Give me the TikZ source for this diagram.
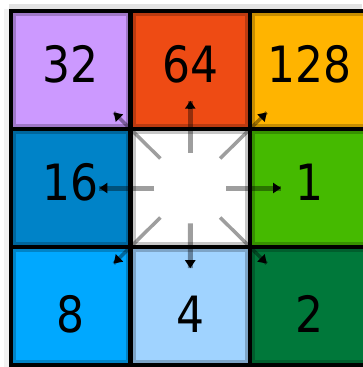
\documentclass[tikz,border=0pt]{standalone}
\usepackage{fontspec}
\newfontfamily\numfont[FakeStretch=0.88]{DejaVu Sans}
\usetikzlibrary{calc, arrows.meta, positioning}
\definecolor{c32}{HTML}{CC99FF}
\definecolor{c64}{HTML}{EE4B14}
\definecolor{c128}{HTML}{FFB400}
\definecolor{c16}{HTML}{0083C8}
\definecolor{c1}{HTML}{45BA00}
\definecolor{c8}{HTML}{00A8FF}
\definecolor{c4}{HTML}{A0D3FF}
\definecolor{c2}{HTML}{00783A}

\begin{document}
\begin{tikzpicture}[x=1pt, y=-1pt, node distance=0pt,
    cell/.style={draw=black, line width=4.5pt, fill=#1, minimum width=119.5pt, minimum height=118pt,
      inner sep=0pt, outer sep=0pt,
      path picture={\draw[line width=10pt, #1!78!black] (path picture bounding box.south west)
        rectangle (path picture bounding box.north east);}},
    edge cell/.style={cell=#1, minimum width=160pt},
    num/.style={font=\numfont\fontsize{50}{52}\selectfont, inner sep=0pt},
    shaft/.style={line width=5pt, draw=black, draw opacity=.38},
    thin shaft/.style={shaft, line width=3.5pt},
    head/.style={line width=4pt, -{Triangle[length=8pt, width=10pt]}}]
    \useasboundingbox (0,0) rectangle (362,367);
    \fill[white] (0,0) rectangle (362,367);
    \fill[gray!22] (9,4) rectangle (362,9);
    \fill[gray!10] (4,9) rectangle (9,367);

    % top row
    \node[cell=c32] (n32) at (70.75,70) {};
    \node[cell=c64,  right=of n32] (n64)  {};
    \node[edge cell=c128, right=of n64] (n128) {};
    % middle row
    \node[cell=c16,   below=of n32] (n16) {};
    \node[cell=white, below=of n64] (c)   {};
    \node[edge cell=c1, right=of c] (n1) {};
    % bottom row
    \node[cell=c8, below=of n16] (n8) {};
    \node[cell=c4, below=of c]   (n4) {};
    \node[edge cell=c2, right=of n4] (n2) {};
    % centres of the right column as far as it shows
    \coordinate (m128) at ([xshift=59.75pt]n128.west);
    \coordinate (m1)   at ([xshift=59.75pt]n1.west);
    \coordinate (m2)   at ([xshift=59.75pt]n2.west);

    \node[num, yshift=6pt]  (t32)  at (n32)  {32};
    \node[num, yshift=6pt]  (t64)  at (n64)  {64};
    \node[num, yshift=6pt]  (t128) at (m128) {128};
    \node[num, yshift=6pt]  (t16)  at (n16)  {16};
    \node[num, yshift=6pt]  (t1)   at (m1)   {1};
    \node[num, yshift=-8pt] (t8)   at (n8)   {8};
    \node[num, yshift=-8pt] (t4)   at (n4)   {4};
    \node[num, yshift=-8pt] (t2)   at (m2)   {2};

    % flow arrows out of the centre cell
    \foreach \n/\a/\b/\s in {n64/0.3/0.74/shaft, n16/0.3/0.76/shaft, m1/0.3/0.76/shaft, n4/0.3/0.68/shaft,
                          n32/0.25/0.64/thin shaft, m128/0.25/0.64/thin shaft,
                          n8/0.25/0.64/thin shaft, m2/0.25/0.64/thin shaft} {
      \coordinate (e) at ($(c)!\b!(\n)$);
      \draw[\s] ($(c)!\a!(\n)$) -- (e);
      \draw[head] ($(e)!7pt!(c)$) -- (e);
    }
\end{tikzpicture}
\end{document}
